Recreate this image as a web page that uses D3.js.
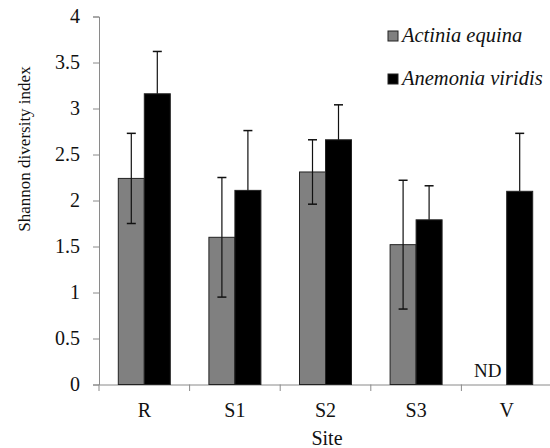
<!DOCTYPE html>
<html><head><meta charset="utf-8">
<script src="https://cdn.jsdelivr.net/npm/d3@7/dist/d3.min.js"></script>
<style>body{margin:0;background:#fff}svg{display:block}text{font-family:"Liberation Serif","Times New Roman",serif}</style>
</head><body>
<svg id="c" width="550" height="448"></svg>
<script>
const sites = ["R","S1","S2","S3","V"];
const seriesNames = ["Actinia equina","Anemonia viridis"];
const actiniaMean = [2.24, 1.60, 2.31, 1.52, null];
const actiniaErr  = [0.49, 0.65, 0.35, 0.70, null];
const anemoniaMean = [3.16, 2.11, 2.66, 1.79, 2.10];
const anemoniaErr  = [0.46, 0.65, 0.38, 0.37, 0.63];
const yTicks = [0,0.5,1,1.5,2,2.5,3,3.5,4];

const svg = d3.select("#c");
const font = "'Liberation Serif','Times New Roman',serif";
const x0 = d3.scaleBand().domain(sites).range([99,552]);
const y = d3.scaleLinear().domain([0,4]).range([384.5,16.5]);
const x1 = d3.scaleBand().domain([0,1]).range([0,52]);
const off = (x0.bandwidth()-52)/2;

// axes
const ya = svg.append("g").attr("transform","translate(99,0)")
  .call(d3.axisLeft(y).tickValues(yTicks).tickSize(6).tickPadding(13).tickFormat(d=>String(d)));
const xa = svg.append("g").attr("transform","translate(0,384.5)")
  .call(d3.axisBottom(x0).tickSize(0).tickPadding(18));
[ya,xa].forEach(g=>{
  g.attr("font-family",font);
  g.selectAll("path,line").attr("stroke","#8a8a8a").attr("stroke-width",1);
  g.selectAll("text").style("font-family",font).attr("font-size",20).attr("fill","#111");
});
// x tick marks at band boundaries
svg.append("g").selectAll("line").data(sites).join("line")
  .attr("x1",d=>x0(d)).attr("x2",d=>x0(d)).attr("y1",384.5).attr("y2",391)
  .attr("stroke","#8a8a8a");

const series = [
  {mean:actiniaMean, err:actiniaErr, fill:"#808080", both:true},
  {mean:anemoniaMean, err:anemoniaErr, fill:"#000000", both:false}
];
series.forEach((s,i)=>{
  const g = svg.append("g");
  const data = sites.map((d,j)=>({site:d,v:s.mean[j],e:s.err[j]})).filter(d=>d.v!=null);
  g.selectAll("rect").data(data).join("rect")
    .attr("x",d=>x0(d.site)+off+x1(i)).attr("width",x1.bandwidth())
    .attr("y",d=>y(d.v)).attr("height",d=>y(0)-y(d.v))
    .attr("fill",s.fill).attr("stroke","#222").attr("stroke-width",1);
  const cx = d=>x0(d.site)+off+x1(i)+x1.bandwidth()/2;
  g.selectAll("line.v").data(data).join("line").attr("class","v")
    .attr("x1",cx).attr("x2",cx)
    .attr("y1",d=>y(d.v+d.e)).attr("y2",d=>s.both?y(d.v-d.e):y(d.v))
    .attr("stroke","#111").attr("stroke-width",1.2);
  g.selectAll("line.t").data(data).join("line").attr("class","t")
    .attr("x1",d=>cx(d)-4.5).attr("x2",d=>cx(d)+4.5)
    .attr("y1",d=>y(d.v+d.e)).attr("y2",d=>y(d.v+d.e))
    .attr("stroke","#111").attr("stroke-width",1.5);
  if(s.both){
    g.selectAll("line.b").data(data).join("line").attr("class","b")
      .attr("x1",d=>cx(d)-4.5).attr("x2",d=>cx(d)+4.5)
      .attr("y1",d=>y(d.v-d.e)).attr("y2",d=>y(d.v-d.e))
      .attr("stroke","#111").attr("stroke-width",1.5);
  }
});
// ND label
svg.append("text").attr("x",x0("V")+off+x1(0)+x1.bandwidth()/2-6).attr("y",y(0)-8)
  .attr("text-anchor","middle").attr("font-size",19).attr("fill","#111").text("ND");

// axis titles
svg.append("text").attr("x",327).attr("y",445).attr("text-anchor","middle")
  .attr("font-size",20).attr("fill","#111").text("Site");
svg.append("text").attr("transform","translate(30,149) rotate(-90)").attr("text-anchor","middle")
  .attr("font-size",17).attr("fill","#111").text("Shannon diversity index");

// legend
const lg = svg.append("g");
seriesNames.forEach((n,i)=>{
  const yy = 36 + i*43;
  lg.append("rect").attr("x",388).attr("y",yy-5).attr("width",10).attr("height",10)
    .attr("fill",series[i].fill).attr("stroke","#222");
  lg.append("text").attr("x",402).attr("y",yy+6).attr("font-style","italic")
    .attr("font-size",20.5).attr("fill","#111").text(n);
});
</script>
</body></html>
